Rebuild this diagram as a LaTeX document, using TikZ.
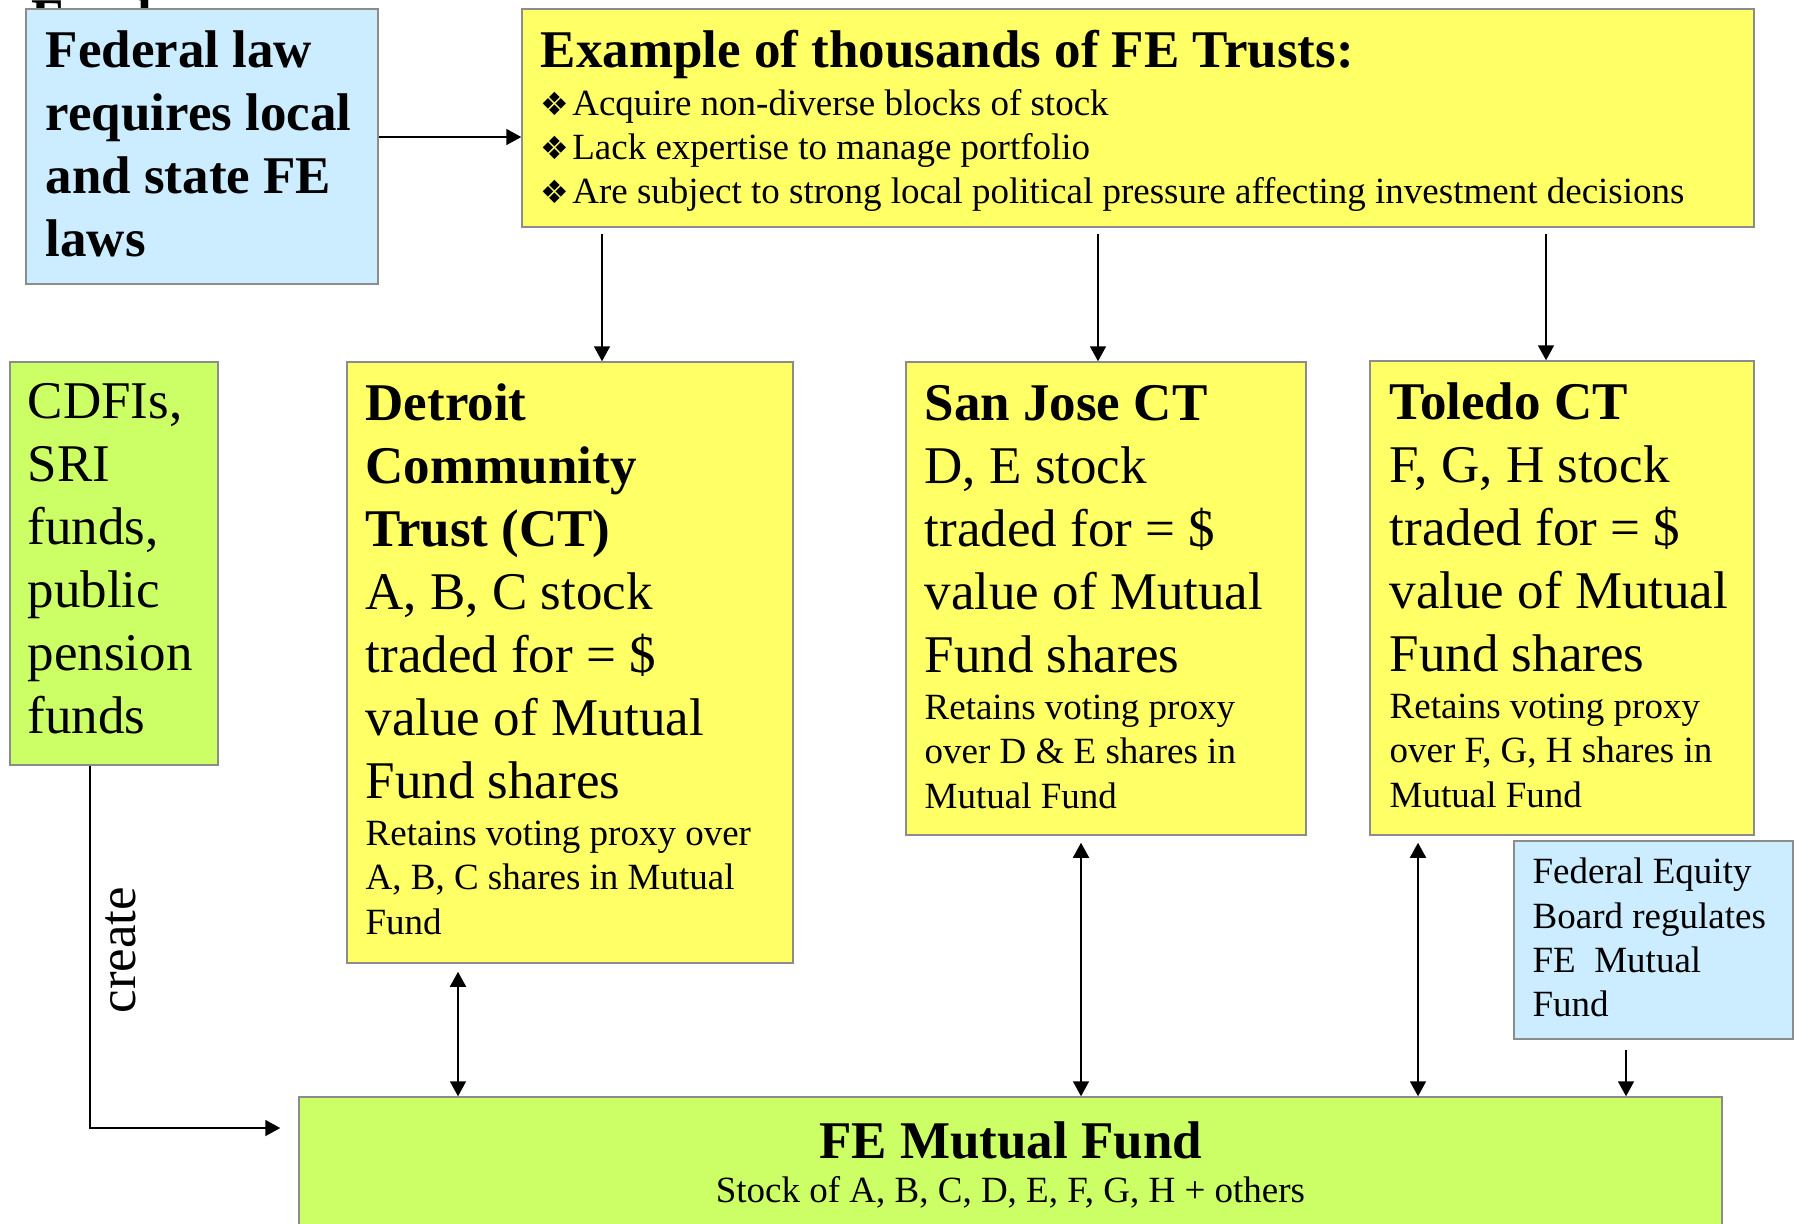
\documentclass[tikz,border=0pt]{standalone}
\usepackage{fontspec}
\setmainfont{Liberation Serif}
\newfontfamily\dingfont{DejaVu Sans}
\usetikzlibrary{arrows.meta,fit,calc}
\newcommand\bigtxt{\fontsize{26.5}{31.5}\selectfont}
\newcommand\smalltxt{\fontsize{18.5}{22.2}\selectfont}
\newcommand\bigstrutx{\rule{0pt}{20pt}}
\newcommand\smallstrutx{\rule{0pt}{14pt}}
\newcommand\bul{{\dingfont\fontsize{16}{22.2}\selectfont ❖}\kern1.5pt}
\definecolor{boxyellow}{HTML}{FFFF66}
\definecolor{boxblue}{HTML}{CCECFF}
\definecolor{boxgreen}{HTML}{CCFF66}
\definecolor{boxline}{HTML}{8C8C8C}
\begin{document}
\begin{tikzpicture}[x=0.5pt,y=-0.5pt,
  box/.style={draw=boxline, line width=0.75pt, inner sep=0pt, rectangle},
  ybox/.style={box, fill=boxyellow},
  bbox/.style={box, fill=boxblue},
  gbox/.style={box, fill=boxgreen},
  txt/.style={anchor=north west, inner sep=0pt, align=flush left, font=\bigtxt},
  arr/.style={line width=0.9pt, -{Triangle[length=7.5pt,width=8pt]}},
  darr/.style={line width=0.9pt, {Triangle[length=7.5pt,width=8pt]}-{Triangle[length=7.5pt,width=8pt]}}]
\useasboundingbox (0,0) rectangle (1794,1223);

% partly hidden title
\node[anchor=base west, inner sep=0pt, font=\bigtxt\bfseries] (cutfund) at (31,35) {Fund};

% boxes
\node[bbox, fit={(26,9)(378,284)}] (fed) {};
\node[ybox, fit={(522,9)(1754,227)}] (trusts) {};
\node[gbox, fit={(10,362)(218,765)}] (cdfi) {};
\node[ybox, fit={(347,362)(793,963)}] (detroit) {};
\node[ybox, fit={(906,362)(1306,835)}] (sanjose) {};
\node[ybox, fit={(1370,361)(1754,835)}] (toledo) {};
\node[bbox, fit={(1514,841)(1793,1039)}] (feb) {};
\node[gbox, fit={(299,1097)(1722,1260)}] (fund) {};

% texts
\node[txt, text width=172pt, font=\bigtxt\bfseries] (fedtxt) at ([shift={(20,19)}]fed.north west)
  {\bigstrutx Federal law\\ requires local\\ and state FE\\ laws\par};
\node[txt, text width=612pt] (truststxt) at ([shift={(19,19)}]trusts.north west)
  {\bigstrutx\textbf{Example of thousands of FE Trusts:}\\[1.5pt]
   \smalltxt\bul Acquire non-diverse blocks of stock\\
   \bul Lack expertise to manage portfolio\\
   \bul Are subject to strong local political pressure affecting investment decisions\par};
\node[txt, text width=100pt] (cdfitxt) at ([shift={(18,17)}]cdfi.north west)
  {\bigstrutx CDFIs,\\ SRI\\ funds,\\ public\\ pension\\ funds\par};
\node[txt, text width=215pt] (detroittxt) at ([shift={(19,19)}]detroit.north west)
  {\bigstrutx\textbf{Detroit}\\ \textbf{Community}\\ \textbf{Trust (CT)}\\ A, B, C stock\\ traded for = \$\\ value of Mutual\\ Fund shares\\[1.2pt]
   \smalltxt Retains voting proxy over\\ A, B, C shares in Mutual\\ Fund\par};
\node[txt, text width=192pt] (sanjosetxt) at ([shift={(19,19)}]sanjose.north west)
  {\bigstrutx\textbf{San Jose CT}\\ D, E stock\\ traded for = \$\\ value of Mutual\\ Fund shares\\[1.2pt]
   \smalltxt Retains voting proxy\\ over D \& E shares in\\ Mutual Fund\par};
\node[txt, text width=185pt] (toledotxt) at ([shift={(20,19)}]toledo.north west)
  {\bigstrutx\textbf{Toledo CT}\\ F, G, H stock\\ traded for = \$\\ value of Mutual\\ Fund shares\\[1.2pt]
   \smalltxt Retains voting proxy\\ over F, G, H shares in\\ Mutual Fund\par};
\node[txt, text width=137pt, font=\smalltxt] (febtxt) at ([shift={(19,15)}]feb.north west)
  {\smallstrutx Federal Equity\\ Board regulates\\ FE\ \ Mutual\\ Fund\par};
\node[anchor=base, inner sep=0pt, font=\bigtxt\bfseries] (fundtitle) at (fund.north |- 0,1158) {FE Mutual Fund};
\node[anchor=base, inner sep=0pt, font=\smalltxt] (fundsub) at (fund.north |- 0,1202) {Stock of A, B, C, D, E, F, G, H + others};

% connectors
\draw[arr] (fed.east |- 0,137) -- (trusts.west |- 0,137);
\draw[arr] (trusts.south -| 602,0) ++(0,6) -- (detroit.north -| 602,0);
\draw[arr] (trusts.south -| 1098,0) ++(0,6) -- (sanjose.north -| 1098,0);
\draw[arr] (trusts.south -| 1546,0) ++(0,6) -- (toledo.north -| 1546,0);
\draw[darr] (detroit.south -| 458,0) ++(0,8) -- (fund.north -| 458,0);
\draw[darr] (sanjose.south -| 1081,0) ++(0,7) -- (fund.north -| 1081,0);
\draw[darr] (toledo.south -| 1418,0) ++(0,7) -- (fund.north -| 1418,0);
\draw[arr] (feb.south -| 1626,0) ++(0,10) -- (fund.north -| 1626,0);
\coordinate (createend) at ($(fund.west |- 0,1128)+(-18,0)$);
\draw[arr] (cdfi.south -| 90,0) |- (createend);
\node[rotate=90, anchor=base, inner sep=0pt, font=\bigtxt] (createlbl) at (135,950) {create};
\end{tikzpicture}
\end{document}
